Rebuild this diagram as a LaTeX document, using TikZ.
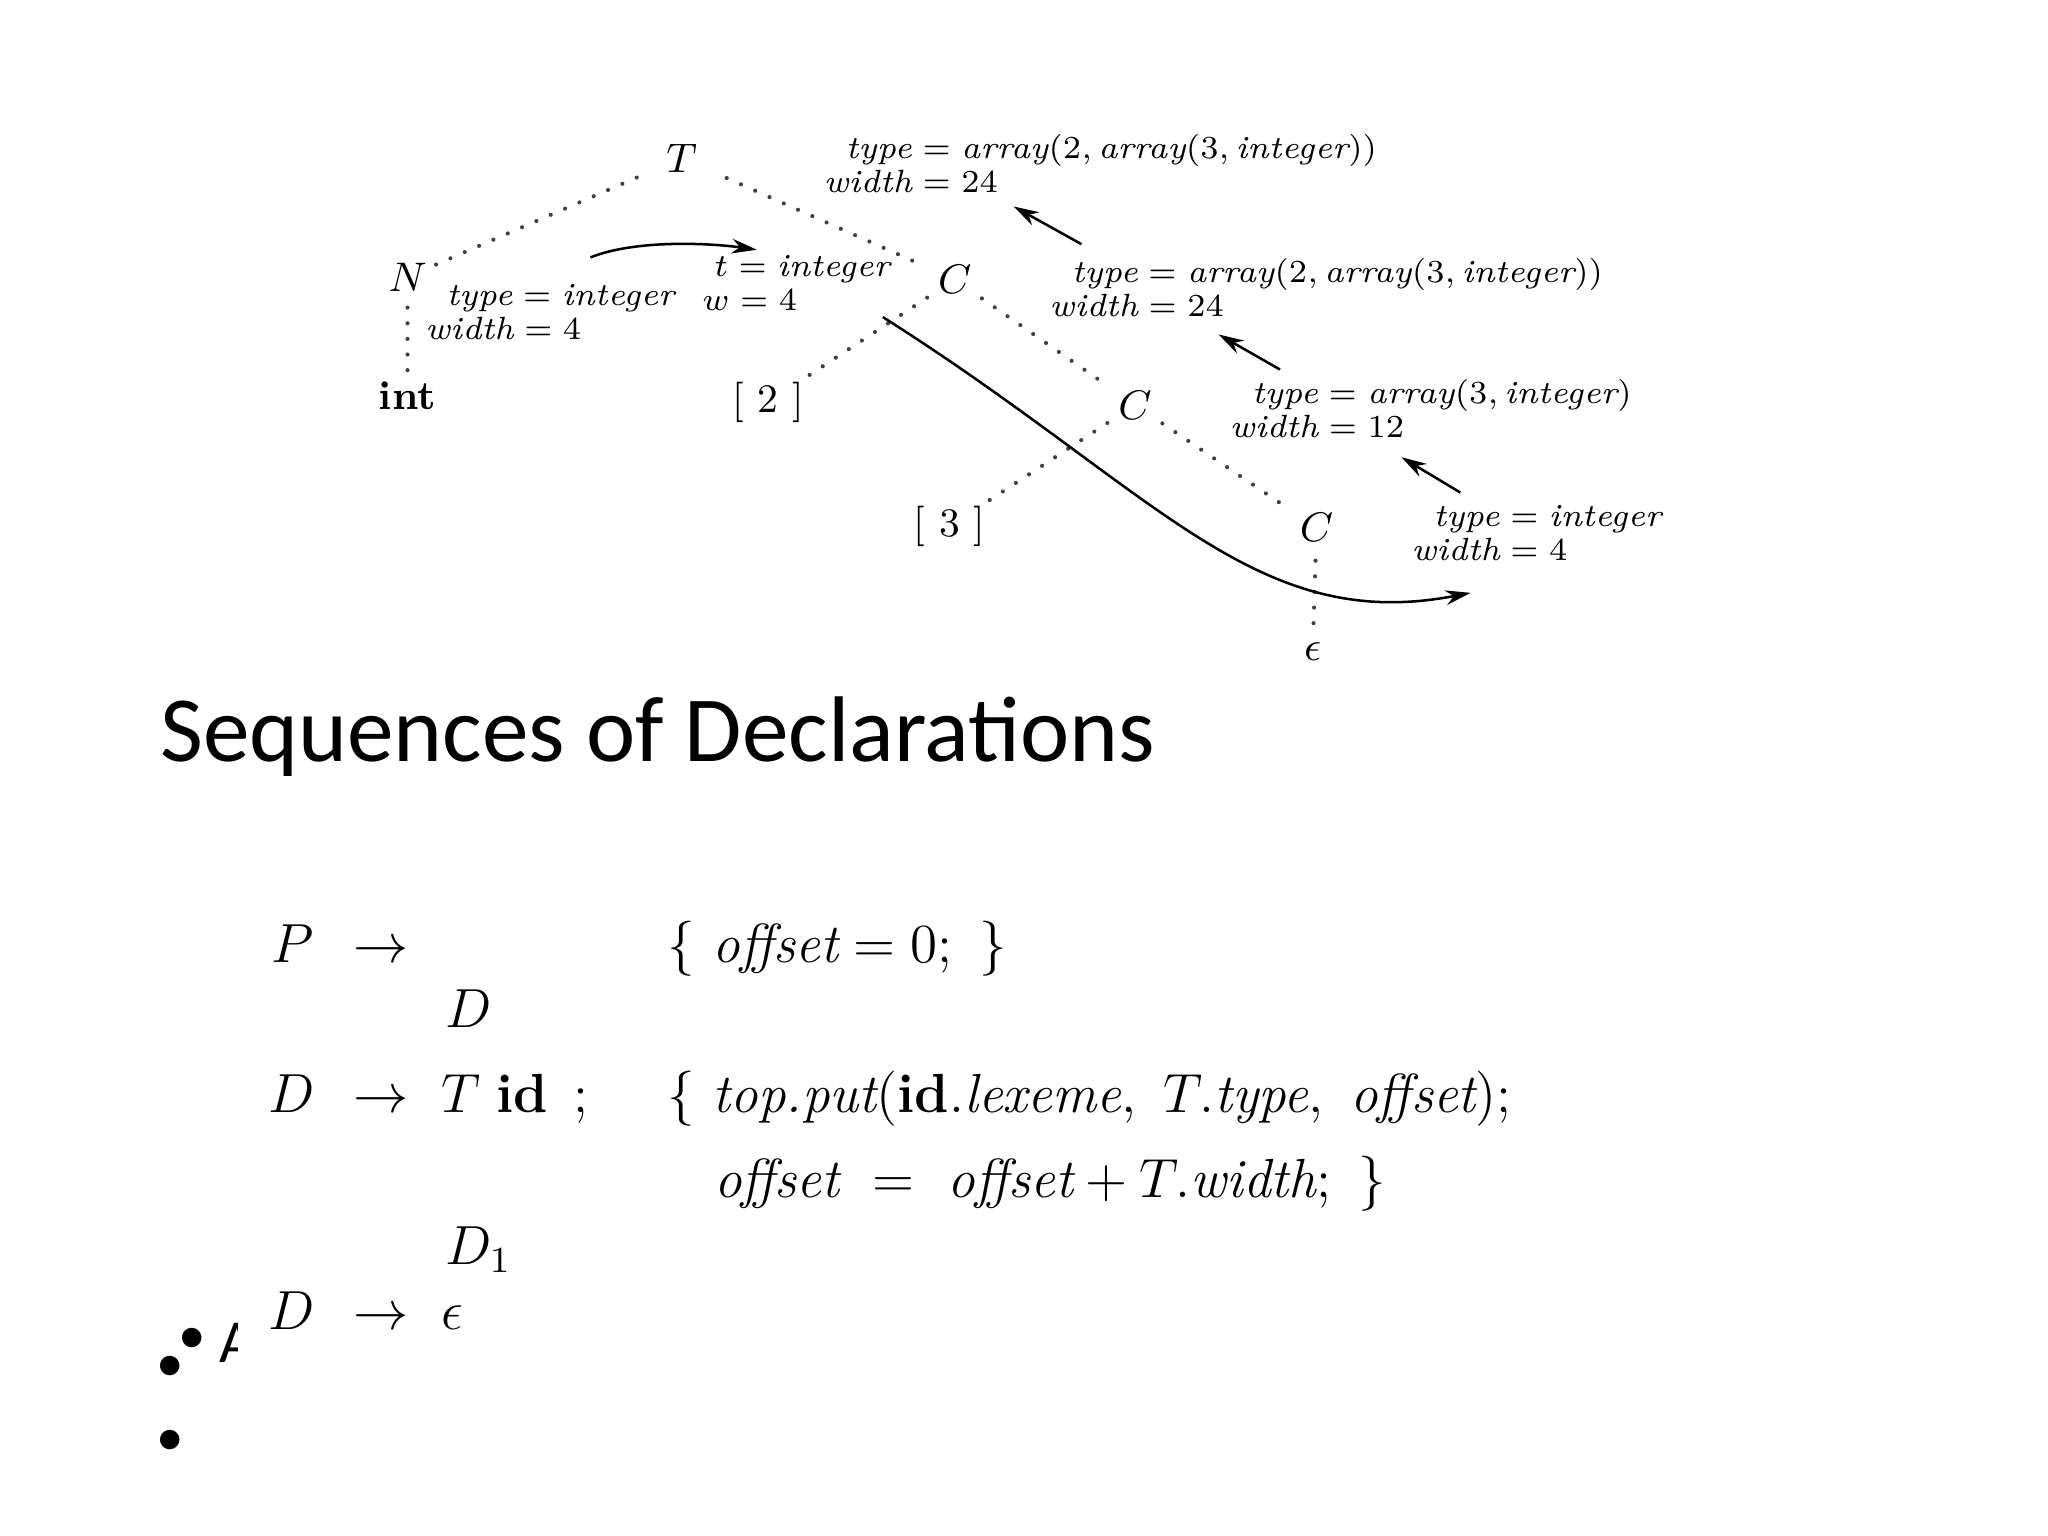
\documentclass[tikz,border=0pt]{standalone}
\usepackage{fontspec}
\newfontfamily\slidefont{Carlito}
\usetikzlibrary{arrows.meta}
\newcommand{\tv}[1]{\textit{#1}}
\tikzset{
  tnode/.style={circle,inner sep=0pt,minimum size=14pt,font=\fontsize{8.8}{10}\selectfont},
  leaf/.style={rectangle,inner sep=1pt,font=\fontsize{8.8}{10}\selectfont},
  attr/.style={right,inner sep=0pt,align=left,font=\fontsize{7}{7.4}\selectfont},
  tedge/.style={black!75,line width=0.9pt,line cap=round,dash pattern=on 0pt off 3.4pt},
  flow/.style={->,line width=0.55pt},
  gram/.style={anchor=base west,inner sep=0pt,font=\fontsize{12}{14}\selectfont},
  bul/.style={inner sep=0pt,font=\slidefont\fontsize{12}{14}\selectfont},
}
\begin{document}
\begin{tikzpicture}[x=0.01cm,y=-0.01cm,>={Stealth[length=5.5pt,width=3.2pt]}]
\useasboundingbox (0,0) rectangle (1568,1176);
% tree nodes
\node[tnode,minimum size=21pt] (T) at (522,121) {$T$};
\node[tnode,minimum size=13pt] (N) at (312,212) {$N$};
\node[leaf] (int) at (312,303) {\textbf{int}};
\node[tnode] (C1) at (731,214) {$C$};
\node[leaf] (b2) at (588,308) {[ 2 ]};
\node[tnode] (C2) at (869,310) {$C$};
\node[leaf] (b3) at (727,403) {[ 3 ]};
\node[tnode] (C3) at (1008,404) {$C$};
\node[leaf] (eps) at (1005,499) {$\epsilon$};
\draw[tedge] (T) -- (N);
\draw[tedge] (T) -- (C1);
\draw[tedge] (N) -- (int);
\draw[tedge] (C1) -- (b2);
\draw[tedge] (C1) -- (C2);
\draw[tedge] (C2) -- (b3);
\draw[tedge] (C2) -- (C3);
\draw[tedge] (C3) -- (eps);
% attribute values
\node[attr] (tlab) at (630,125) {\hspace*{4.8pt}$\tv{type} = \tv{array}(2, \tv{array}(3, \tv{integer}))$\\$\tv{width} = 24$};
\node[attr] (nlab) at (325,239) {\hspace*{4.6pt}$\tv{type} = \tv{integer}$\\$\tv{width} = 4$};
\node[attr] (tw) at (537,217) {\hspace*{2.6pt}$t = \tv{integer}$\\$w = 4$};
\node[attr] (c1lab) at (803,220) {\hspace*{4.8pt}$\tv{type} = \tv{array}(2, \tv{array}(3, \tv{integer}))$\\$\tv{width} = 24$};
\node[attr] (c2lab) at (941,313) {\hspace*{4.8pt}$\tv{type} = \tv{array}(3, \tv{integer})$\\$\tv{width} = 12$};
\node[attr] (c3lab) at (1080,408) {\hspace*{4.8pt}$\tv{type} = \tv{integer}$\\$\tv{width} = 4$};
% how the values travel
\draw[flow] ([shift={(31,-20)}]nlab.north) .. controls +(35,-14) and +(-35,-5) .. ([shift={(-30,-4)}]tw.north);
\draw[flow] ([shift={(25,-10)}]c1lab.north west) -- ([shift={(146,10)}]tlab.south west);
\draw[flow] ([shift={(39,-7)}]c2lab.north west) -- ([shift={(130,13)}]c1lab.south west);
\draw[flow] ([shift={(38,-9)}]c3lab.north west) -- ([shift={(132,14)}]c2lab.south west);
\draw[flow] ([shift={(-6,4)}]tw.south east) .. controls +(210,133) and +(-166,32) .. ([shift={(46,24)}]c3lab.south west);
% slide title
\node[anchor=base west,inner sep=0pt,font=\slidefont\fontsize{20.3}{24}\selectfont] (title) at (122,583) {Sequences of Declarations};
% grammar
\node[gram] (p) at (207,737) {$P$};
\node[gram] (pto) at (270,737) {$\rightarrow$};
\node[gram] (act0) at (510,737) {$\{\ \tv{offset} = 0;\ \}$};
\node[gram] (pd) at (340,787) {$D$};
\node[gram] (d) at (205,852) {$D$};
\node[gram] (dto) at (270,852) {$\rightarrow$};
\node[gram] (tid) at (337,852) {$T$\hspace{3.5pt}\textbf{id}\hspace{5.5pt};};
\node[gram] (act1) at (510,852) {$\{\ \tv{top.put}(\textbf{id}.\tv{lexeme},\ T.\tv{type},\ \tv{offset});$};
\node[gram] (act2) at (546,917) {$\tv{offset}\ =\ \tv{offset} + T.\tv{width};\ \}$};
\node[gram] (dd1) at (340,968) {$D_1$};
\node[gram] (de) at (205,1018) {$D$};
\node[gram] (deto) at (270,1018) {$\rightarrow$};
\node[gram] (deps) at (337,1018) {$\epsilon$};
% bullets
\node[bul] (bl1) at (130,1048) {•};
\node[bul] (bl2) at (130,1105) {•};
\node[bul] (bl3) at (147,1027) {•};
\begin{scope}
\clip (160,1000) rectangle (182,1060);
\node[anchor=base west,inner sep=0pt,font=\slidefont\fontsize{13.3}{16}\selectfont] (atext) at (167,1043) {A};
\end{scope}
\end{tikzpicture}
\end{document}
